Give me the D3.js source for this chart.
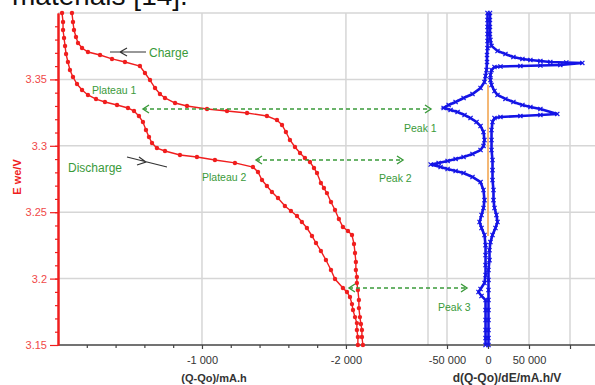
<!DOCTYPE html>
<html>
<head>
<meta charset="utf-8">
<script src="https://cdn.jsdelivr.net/npm/d3@7"></script>
<style>
body { margin: 0; background: #fff; }
svg { display: block; font-family: Arial, "Liberation Sans", sans-serif; }
</style>
</head>
<body>
<div id="chart"></div>
<script>
// ---- data: [Q-Qo (mA.h), Ewe (V)] ----
const chargeCurve = [
  [-97,3.400],[-104,3.3932],[-111,3.3872],[-125,3.3819],[-139,3.3774],[-167,3.3736],
  [-208,3.3706],[-292,3.3684],[-375,3.3654],[-465,3.3631],[-569,3.3601],[-604,3.3548],
  [-639,3.3495],[-674,3.3435],[-708,3.3390],[-743,3.3360],[-813,3.3322],[-896,3.3300],
  [-1035,3.3277],[-1174,3.3262],[-1313,3.3247],[-1451,3.3224],[-1521,3.3194],[-1556,3.3157],
  [-1583,3.3104],[-1611,3.3044],[-1646,3.2991],[-1681,3.2946],[-1715,3.2908],[-1750,3.2878],
  [-1778,3.2833],[-1799,3.2795],[-1826,3.2720],[-1847,3.2682],[-1868,3.2644],[-1896,3.2577],
  [-1924,3.2517],[-1951,3.2449],[-1979,3.2389],[-2014,3.2358],[-2042,3.2328],[-2056,3.2261],
  [-2063,3.2193],[-2069,3.2125],[-2069,3.2065],[-2076,3.2012],[-2076,3.1967],[-2083,3.1914],
  [-2090,3.1839],[-2090,3.1778],[-2097,3.1710],[-2104,3.1658],[-2111,3.1613],[-2111,3.1560],
  [-2118,3.1500]
];
const dischargeCurve = [
  [-28,3.400],[-35,3.3932],[-35,3.3872],[-42,3.3812],[-49,3.3752],[-56,3.3691],
  [-69,3.3631],[-83,3.3571],[-104,3.3518],[-132,3.3465],[-167,3.3420],[-208,3.3383],
  [-264,3.3352],[-326,3.3330],[-410,3.3307],[-486,3.3285],[-528,3.3262],[-562,3.3224],
  [-590,3.3179],[-611,3.3119],[-632,3.3066],[-653,3.3021],[-687,3.2983],[-743,3.2961],
  [-847,3.2931],[-965,3.2916],[-1090,3.2893],[-1229,3.2871],[-1354,3.2840],[-1389,3.2803],
  [-1417,3.2742],[-1451,3.2697],[-1486,3.2652],[-1528,3.2607],[-1576,3.2547],[-1618,3.2509],
  [-1660,3.2471],[-1694,3.2426],[-1729,3.2381],[-1764,3.2321],[-1792,3.2268],[-1826,3.2208],
  [-1861,3.2140],[-1896,3.2065],[-1924,3.1997],[-1979,3.1929],[-2007,3.1899],[-2028,3.1861],
  [-2042,3.1808],[-2049,3.1763],[-2063,3.1710],[-2076,3.1665],[-2076,3.1613],[-2083,3.1560],
  [-2083,3.1500]
];

// [d(Q-Qo)/dE (mA.h/V), Ewe (V)]
const dqdePositive = [
  [2400,3.400],[2400,3.3947],[2400,3.3895],[2400,3.3842],[3000,3.3797],[4300,3.3752],
  [11600,3.3714],[21300,3.3691],[31000,3.3668],[42000,3.3654],[51700,3.3646],[63900,3.3639],
  [76000,3.3631],[95500,3.3627],[115000,3.3624],[88200,3.3608],[63900,3.3605],[39500,3.3601],
  [15200,3.3597],[7900,3.3593],[4300,3.3571],[3000,3.3533],[3000,3.3495],[4300,3.3458],
  [7900,3.3413],[11600,3.3383],[21300,3.3353],[31000,3.3330],[42000,3.3307],[51700,3.3292],
  [63900,3.3277],[84500,3.3240],[63900,3.3232],[39500,3.3224],[15200,3.3217],[7900,3.3209],
  [5500,3.3179],[4300,3.3119],[4300,3.3044],[4300,3.2968],[5500,3.2893],[5500,3.2817],
  [5500,3.2742],[6700,3.2667],[6700,3.2591],[7900,3.2532],[10300,3.2479],[11600,3.2426],
  [9100,3.2381],[5500,3.2328],[3000,3.2275],[1800,3.2214],[1800,3.2139],[600,3.2065],
  [600,3.1990],[600,3.1914],[600,3.1839],[600,3.1763],[600,3.1688],[600,3.1613],
  [600,3.1552],[600,3.1500]
];
const dqdeNegative = [
  [-600,3.400],[-600,3.3947],[-600,3.3895],[-600,3.3842],[-600,3.3789],[-600,3.3736],
  [-1200,3.3684],[-1200,3.3631],[-1800,3.3571],[-3000,3.3526],[-4300,3.3480],[-9100,3.3435],
  [-18900,3.3390],[-29800,3.3360],[-39500,3.3330],[-48000,3.3307],[-54100,3.3285],[-45600,3.3270],
  [-37100,3.3255],[-28600,3.3232],[-21300,3.3209],[-14000,3.3179],[-9100,3.3149],[-5500,3.3104],
  [-4300,3.3044],[-5500,3.2999],[-9100,3.2968],[-18900,3.2938],[-29800,3.2916],[-39500,3.2901],
  [-49300,3.2886],[-60200,3.2871],[-69900,3.2859],[-57800,3.2840],[-49300,3.2825],[-39500,3.2810],
  [-29800,3.2795],[-18900,3.2765],[-9100,3.2727],[-5500,3.2667],[-4300,3.2591],[-5500,3.2532],
  [-7900,3.2479],[-10300,3.2426],[-7900,3.2381],[-4300,3.2328],[-3000,3.2252],[-3000,3.2177],
  [-3000,3.2102],[-3000,3.2027],[-4300,3.1967],[-9100,3.1922],[-11600,3.1899],[-7900,3.1869],
  [-3000,3.1839],[-3000,3.1763],[-3000,3.1688],[-3000,3.1613],[-3000,3.1552],[-3000,3.1500]
];
const zeroLine = [[0,3.346],[0,3.232]];

// ticks
const yTicks = [3.15, 3.2, 3.25, 3.3, 3.35];
const yGrid = [3.2, 3.25, 3.3, 3.35, 3.4];
const qTicks = [-1000, -2000];
const qMinor = [-200, -400, -600, -800, -1200, -1400, -1600, -1800];
const dTicks = [-50000, 0, 50000, 100000];
const dGrid = [-50000, 50000, 100000];

const W = 595, H = 385;
const red = "#f01e1e", green = "#3a9a3a", blue = "#1414e6";

const svg = d3.select("#chart").append("svg")
    .attr("width", W)
    .attr("height", H);

const y = d3.scaleLinear().domain([3.15, 3.4]).range([345, 13]);
const xL = d3.scaleLinear().domain([0, -2570]).range([58, 428]);
const xR = d3.scaleLinear().domain([-50000, 100000]).range([447, 570]);

const fmt = d3.formatLocale({decimal: ".", thousands: " ", grouping: [3], currency: ["", ""], minus: "-"}).format(",");

// clipped title text from the page above the figure
svg.append("text")
    .attr("x", 12).attr("y", 5)
    .attr("font-size", 28)
    .attr("fill", "#111")
    .text("materials [14].");

// grid
const grid = svg.append("g").attr("stroke", "#d6d6d6").attr("stroke-width", 1.5);
grid.selectAll(".hg").data(yGrid).join("line")
    .attr("x1", 58).attr("x2", W)
    .attr("y1", d => y(d)).attr("y2", d => y(d));
const vx = qTicks.map(d => xL(d)).concat([xL(-2570)], dGrid.map(d => xR(d)));
grid.selectAll(".vg").data(vx).join("line")
    .attr("x1", d => d).attr("x2", d => d)
    .attr("y1", y(3.4)).attr("y2", y(3.15));

// bottom axes
svg.append("line")
    .attr("x1", 58).attr("x2", W).attr("y1", 345).attr("y2", 345)
    .attr("stroke", "#444").attr("stroke-width", 1.5);

function styleX(g) {
    g.select(".domain").remove();
    g.selectAll(".tick line").attr("stroke", "#444").attr("stroke-width", 1.2);
    g.selectAll(".tick text").attr("fill", "#333").attr("font-size", 11);
}
svg.append("g").attr("transform", "translate(0,345)")
    .call(d3.axisBottom(xL).tickValues(qTicks).tickSize(4).tickPadding(7).tickFormat(fmt))
    .call(styleX);
svg.append("g").attr("transform", "translate(0,345)")
    .call(d3.axisBottom(xL).tickValues(qMinor).tickSize(3).tickFormat(""))
    .call(styleX);
svg.append("g").attr("transform", "translate(0,345)")
    .call(d3.axisBottom(xR).tickValues(dTicks).tickSize(4).tickPadding(7)
        .tickFormat(d => d === 100000 ? "" : fmt(d)))
    .call(styleX);

// y axis
function styleY(g) {
    g.select(".domain").attr("stroke", red).attr("stroke-width", 2);
    g.selectAll(".tick line").attr("stroke", red).attr("stroke-width", 1.2);
    g.selectAll(".tick text").attr("fill", "#f04848").attr("font-size", 11);
}
svg.append("g").attr("transform", "translate(58,0)")
    .call(d3.axisLeft(y).tickValues(d3.range(3.16, 3.4, 0.01).map(v => +v.toFixed(2))).tickSize(3).tickSizeOuter(0).tickFormat(""))
    .call(styleY);
svg.append("g").attr("transform", "translate(58,0)")
    .call(d3.axisLeft(y).tickValues(yTicks).tickSize(8).tickSizeOuter(0).tickPadding(3).tickFormat(d => String(d)))
    .call(styleY);

// axis titles
svg.append("text")
    .attr("transform", "translate(21,177) rotate(-90)")
    .attr("text-anchor", "middle")
    .attr("font-size", 11).attr("font-weight", "bold")
    .attr("fill", red)
    .text("E we/V");
svg.append("text")
    .attr("x", 214).attr("y", 382)
    .attr("text-anchor", "middle")
    .attr("font-size", 11).attr("font-weight", "bold").attr("fill", "#333")
    .text("(Q-Qo)/mA.h");
svg.append("text")
    .attr("x", 507).attr("y", 382)
    .attr("text-anchor", "middle")
    .attr("font-size", 12).attr("font-weight", "bold").attr("fill", "#333")
    .text("d(Q-Qo)/dE/mA.h/V");

// orange zero line
svg.append("path")
    .datum(zeroLine)
    .attr("d", d3.line().x(d => xR(d[0])).y(d => y(d[1])))
    .attr("stroke", "#f0a048").attr("stroke-width", 1.5).attr("fill", "none");

// red galvanostatic curves
const lineL = d3.line().x(d => xL(d[0])).y(d => y(d[1]));
[chargeCurve, dischargeCurve].forEach(series => {
    svg.append("path").datum(series)
        .attr("d", lineL)
        .attr("fill", "none").attr("stroke", red).attr("stroke-width", 1.4);
    svg.append("g").selectAll("circle").data(series).join("circle")
        .attr("cx", d => xL(d[0])).attr("cy", d => y(d[1]))
        .attr("r", 2.2).attr("fill", red);
});

// blue dQ/dE curves
const lineR = d3.line().x(d => xR(d[0])).y(d => y(d[1]));
[dqdePositive, dqdeNegative].forEach(series => {
    svg.append("path").datum(series)
        .attr("d", lineR)
        .attr("fill", "none").attr("stroke", blue).attr("stroke-width", 2.6);
    svg.append("g").selectAll("path").data(series).join("path")
        .attr("d", d => {
            const cx = xR(d[0]), cy = y(d[1]), s = 2.1;
            return `M${cx - s},${cy - s}L${cx + s},${cy + s}M${cx - s},${cy + s}L${cx + s},${cy - s}`;
        })
        .attr("stroke", blue).attr("stroke-width", 1.2);
});

// annotations
const notes = [
    {t: "Charge", x: 149, y: 57, s: 12},
    {t: "Plateau 1", x: 92, y: 94, s: 10.5},
    {t: "Discharge", x: 68, y: 172, s: 12},
    {t: "Plateau 2", x: 202, y: 181, s: 10.5},
    {t: "Peak 1", x: 404, y: 132, s: 10.5},
    {t: "Peak 2", x: 379, y: 182, s: 10.5},
    {t: "Peak 3", x: 438, y: 311, s: 10.5}
];
svg.selectAll(".note").data(notes).join("text")
    .attr("x", d => d.x).attr("y", d => d.y)
    .attr("font-size", d => d.s)
    .attr("fill", green)
    .text(d => d.t);

// black pointer arrows
const arrows = svg.append("g").attr("stroke", "#333").attr("stroke-width", 1.2).attr("fill", "none");
arrows.append("path").attr("d", "M110,52L146,52M127,48L120,52L127,56");
arrows.append("path").attr("d", "M127,157L167,167M139,157L146,162L137,165");

// green dashed double arrows
function dashArrow(x1, x2, yy) {
    const g = svg.append("g").attr("stroke", green).attr("fill", "none").attr("stroke-width", 1.4);
    g.append("line").attr("x1", x1).attr("x2", x2).attr("y1", yy).attr("y2", yy)
        .attr("stroke-dasharray", "4,3");
    g.append("path").attr("d", `M${x1 + 6},${yy - 4}L${x1},${yy}L${x1 + 6},${yy + 4}`);
    g.append("path").attr("d", `M${x2 - 6},${yy - 4}L${x2},${yy}L${x2 - 6},${yy + 4}`);
}
dashArrow(143, 431, y(3.3277));
dashArrow(256, 403, y(3.2893));
dashArrow(349, 467, y(3.1929));
</script>
</body>
</html>
